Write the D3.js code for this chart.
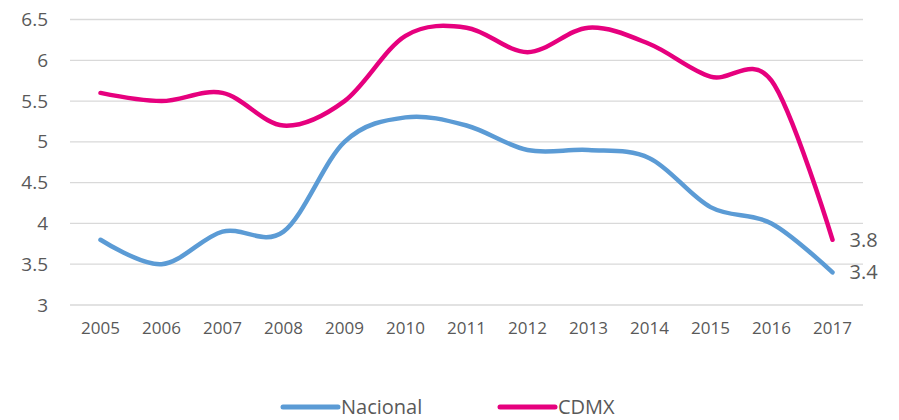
<!DOCTYPE html>
<html>
<head>
<meta charset="utf-8">
<script src="https://cdn.jsdelivr.net/npm/d3@7"></script>
<style>
body { margin: 0; background: #fff; }
text { font-family: "Open Sans", "Liberation Sans", sans-serif; fill: #595959; }
</style>
</head>
<body>
<svg id="chart" width="899" height="420"></svg>
<script>
// datos
var years = ["2005","2006","2007","2008","2009","2010","2011","2012","2013","2014","2015","2016","2017"];
var nacional = [3.8, 3.5, 3.9, 3.9, 5.0, 5.3, 5.2, 4.9, 4.9, 4.8, 4.2, 4.0, 3.4];
var cdmx = [5.6, 5.5, 5.6, 5.2, 5.5, 6.3, 6.4, 6.1, 6.4, 6.2, 5.8, 5.75, 3.8];
var yTicks = [3, 3.5, 4, 4.5, 5, 5.5, 6, 6.5];

var series = [
    {name: "Nacional", values: nacional, color: "#5b9bd5"},
    {name: "CDMX", values: cdmx, color: "#e6007e"}
];

var svg = d3.select("#chart");

var x = d3.scaleBand().domain(years).range([70, 863]);
var y = d3.scaleLinear().domain([3, 6.5]).range([305, 19.5]);

// rejilla
svg.append("g")
    .selectAll("line")
    .data(yTicks)
    .join("line")
    .attr("x1", 70).attr("x2", 863)
    .attr("y1", function(d){ return y(d); })
    .attr("y2", function(d){ return y(d); })
    .attr("stroke", "#d9d9d9")
    .attr("stroke-width", 1.3);

var yAxis = svg.append("g")
    .attr("transform", "translate(48,0)")
    .call(d3.axisLeft(y).tickValues(yTicks).tickSize(0).tickPadding(0)
          .tickFormat(function(d){ return d; }));
yAxis.select(".domain").remove();
yAxis.selectAll("text").attr("font-size", 19).attr("fill", "#595959")
    .style("font-family", "'Open Sans', sans-serif");

var xAxis = svg.append("g")
    .attr("transform", "translate(0,320)")
    .call(d3.axisBottom(x).tickSize(0).tickPadding(0));
xAxis.select(".domain").remove();
xAxis.selectAll("text").attr("font-size", 17).attr("fill", "#595959")
    .attr("dy", "0.85em")
    .style("font-family", "'Open Sans', sans-serif");

var cx = function(i){ return x(years[i]) + x.bandwidth() / 2; };

var line = d3.line()
    .x(function(d, i){ return cx(i); })
    .y(function(d){ return y(d); })
    .curve(d3.curveCardinal.tension(0));

svg.selectAll("path.serie")
    .data(series)
    .join("path")
    .classed("serie", true)
    .attr("d", function(s){ return line(s.values); })
    .attr("fill", "none")
    .attr("stroke", function(s){ return s.color; })
    .attr("stroke-width", 4.5)
    .attr("stroke-linecap", "round");

// etiqueta del ultimo valor
var last = years.length - 1;
svg.selectAll("text.lbl")
    .data(series)
    .join("text")
    .classed("lbl", true)
    .attr("x", cx(last) + 17)
    .attr("y", function(s){ return y(s.values[last]) + 7; })
    .attr("font-size", 20)
    .text(function(s){ return s.values[last].toFixed(1); });

// leyenda
var legendX = [283, 500];
var lg = svg.selectAll("g.leg")
    .data(series)
    .join("g")
    .classed("leg", true)
    .attr("transform", function(s, i){ return "translate(" + legendX[i] + ",407)"; });
lg.append("line")
    .attr("x1", 0).attr("x2", 55)
    .attr("stroke", function(s){ return s.color; })
    .attr("stroke-width", 5)
    .attr("stroke-linecap", "round");
lg.append("text")
    .attr("x", 58)
    .attr("y", 7)
    .attr("font-size", 20)
    .text(function(s){ return s.name; });
</script>
</body>
</html>
